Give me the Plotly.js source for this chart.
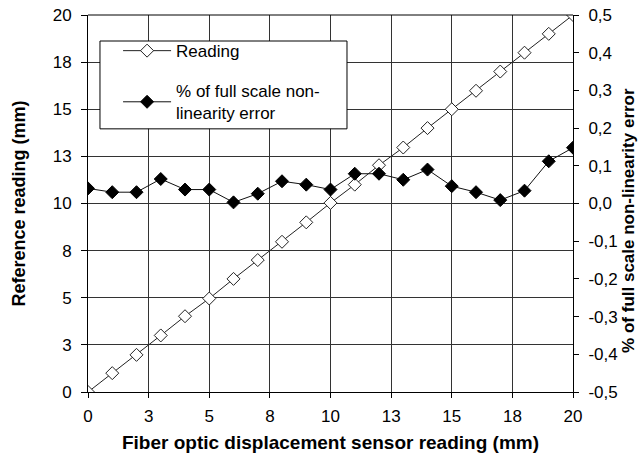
<!DOCTYPE html>
<html>
<head>
<meta charset="utf-8">
<script src="https://cdn.plot.ly/plotly-3.0.1.min.js"></script>
<style>html,body{margin:0;padding:0;background:#fff;}#chart{width:638px;height:455px;}</style>
</head>
<body>
<div id="chart"></div>
<script>
var sensorReading = [0,1,2,3,4,5,6,7,8,9,10,11,12,13,14,15,16,17,18,19,20];
var referenceReading = [0,1.0,1.97,3.0,4.02,4.96,6.0,7.0,7.97,9.0,10.03,11.0,12.03,12.97,14.0,15.0,15.98,17.0,18.0,19.0,20.0];
var errorPct = [0.040,0.030,0.030,0.065,0.037,0.037,0.003,0.026,0.059,0.050,0.037,0.079,0.079,0.063,0.090,0.046,0.030,0.009,0.034,0.112,0.148];

var xTickVals = [0,2.5,5,7.5,10,12.5,15,17.5,20];
var xTickText = ["0","3","5","8","10","13","15","18","20"];
var yTickVals = [0,2.5,5,7.5,10,12.5,15,17.5,20];
var yTickText = ["0","3","5","8","10","13","15","18","20"];
var y2TickVals = [-0.5,-0.4,-0.3,-0.2,-0.1,0,0.1,0.2,0.3,0.4,0.5];
var y2TickText = ["-0,5","-0,4","-0,3","-0,2","-0,1","0,0","0,1","0,2","0,3","0,4","0,5"];

var FONT = "Liberation Sans, Arial, sans-serif";
var grid = "#333";

var traces = [
  {
    x: sensorReading, y: referenceReading, name: "Reading", legendgroup: "a",
    type: "scatter", mode: "lines+markers",
    line: {color: "#222", width: 1},
    marker: {symbol: "diamond", size: 10, color: "#fff", line: {color: "#222", width: 1}},
    yaxis: "y"
  },
  {
    x: sensorReading, y: errorPct, name: "% of full scale non-<br>linearity error", legendgroup: "b",
    type: "scatter", mode: "lines+markers",
    line: {color: "#111", width: 1},
    marker: {symbol: "diamond", size: 10, color: "#000", line: {color: "#000", width: 1}},
    yaxis: "y2"
  }
];

var layout = {
  width: 638, height: 455,
  margin: {l: 88, r: 65, t: 15, b: 63},
  paper_bgcolor: "#fff", plot_bgcolor: "#fff",
  font: {family: FONT, size: 17, color: "#000"},
  showlegend: true,
  legend: {
    x: 0.062, y: 0.952, xanchor: "left", yanchor: "top",
    bgcolor: "rgba(0,0,0,0)", borderwidth: 0,
    font: {family: FONT, size: 17, color: "#000"},
    itemwidth: 48, tracegroupgap: 15
  },
  xaxis: {
    range: [0, 20], tickmode: "array", tickvals: xTickVals, ticktext: xTickText,
    showgrid: true, gridcolor: grid, gridwidth: 1,
    showline: true, linecolor: "#000", linewidth: 1, mirror: false,
    ticks: "outside", ticklen: 5, tickcolor: "#000", ticklabelstandoff: 4,
    zeroline: false,
    tickfont: {family: FONT, size: 17},
    title: {text: "<b>Fiber optic displacement sensor reading (mm)</b>", font: {family: FONT, size: 19}, standoff: 10}
  },
  yaxis: {
    range: [0, 20], tickmode: "array", tickvals: yTickVals, ticktext: yTickText,
    showgrid: true, gridcolor: grid, gridwidth: 1,
    showline: true, linecolor: "#000", linewidth: 1,
    ticks: "outside", ticklen: 6, tickcolor: "#000", ticklabelstandoff: 6,
    zeroline: false,
    tickfont: {family: FONT, size: 17},
    title: {text: "<b>Reference reading (mm)</b>", font: {family: FONT, size: 18}, standoff: 22}
  },
  yaxis2: {
    range: [-0.5, 0.5], overlaying: "y", side: "right",
    tickmode: "array", tickvals: y2TickVals, ticktext: y2TickText,
    showgrid: false, showline: true, linecolor: "#000", linewidth: 1,
    ticks: "outside", ticklen: 5, tickcolor: "#000", ticklabelstandoff: 6,
    zeroline: false,
    tickfont: {family: FONT, size: 17}
  },
  annotations: [
    {text: "<b>% of full scale non-linearity error</b>", xref: "paper", yref: "paper",
     x: 1.113, y: 0.456, xanchor: "center", yanchor: "middle", textangle: -90,
     showarrow: false, font: {family: FONT, size: 17, color: "#000"}}
  ],
  shapes: [
    {type: "line", xref: "paper", yref: "paper", x0: 0, x1: 1, y0: 1, y1: 1, line: {color: "#000", width: 1}},
    {type: "rect", xref: "paper", yref: "paper", x0: 0.0247, x1: 0.534, y0: 0.698, y1: 0.931,
     fillcolor: "#fff", line: {color: "#000", width: 1}, layer: "above"}
  ]
};

Plotly.newPlot("chart", traces, layout, {displayModeBar: false, staticPlot: true});
</script>
</body>
</html>
